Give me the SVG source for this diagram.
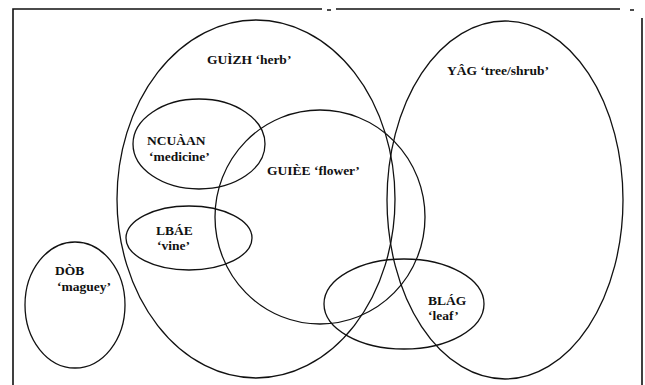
<svg xmlns="http://www.w3.org/2000/svg" width="645" height="385" viewBox="0 0 645 385">
<style>
.e{fill:none;stroke:#111;stroke-width:1.3}
.f{fill:none;stroke:#111;stroke-width:1.6}
text{font-family:"Liberation Serif","Times New Roman",serif;font-weight:bold;font-size:13.5px;fill:#111}
</style>
<rect width="645" height="385" fill="#fff"/>
<g id="frame">
<path class="f" d="M13,385 V9 H322 M327,10 H331 M336,9 H620 M630,10 H634 M642,18 V385"/>
</g>
<g id="guizh">
<ellipse class="e" cx="256" cy="199" rx="139" ry="179"/>
<text x="207" y="64">GUÌZH ‘herb’</text>
</g>
<g id="yag">
<ellipse class="e" cx="505" cy="200" rx="118" ry="179"/>
<text x="447" y="75">YÂG ‘tree/shrub’</text>
</g>
<g id="guiee">
<ellipse class="e" cx="320" cy="217" rx="105" ry="107"/>
<text x="267" y="175">GUIÈE ‘flower’</text>
</g>
<g id="ncuaan">
<ellipse class="e" cx="199" cy="144" rx="66" ry="45"/>
<text x="147" y="145">NCUÀAN</text>
<text x="149" y="161">‘medicine’</text>
</g>
<g id="lbae">
<ellipse class="e" cx="189" cy="238" rx="63" ry="32"/>
<text x="156" y="235">LBÁE</text>
<text x="157" y="250">‘vine’</text>
</g>
<g id="dob">
<ellipse class="e" cx="75" cy="305" rx="50" ry="63"/>
<text x="55" y="275">DÒB</text>
<text x="57" y="291">‘maguey’</text>
</g>
<g id="blag">
<ellipse class="e" cx="404" cy="304" rx="80" ry="45"/>
<text x="428" y="305">BLÁG</text>
<text x="428" y="320">‘leaf’</text>
</g>
<g id="connectors"></g>
</svg>
